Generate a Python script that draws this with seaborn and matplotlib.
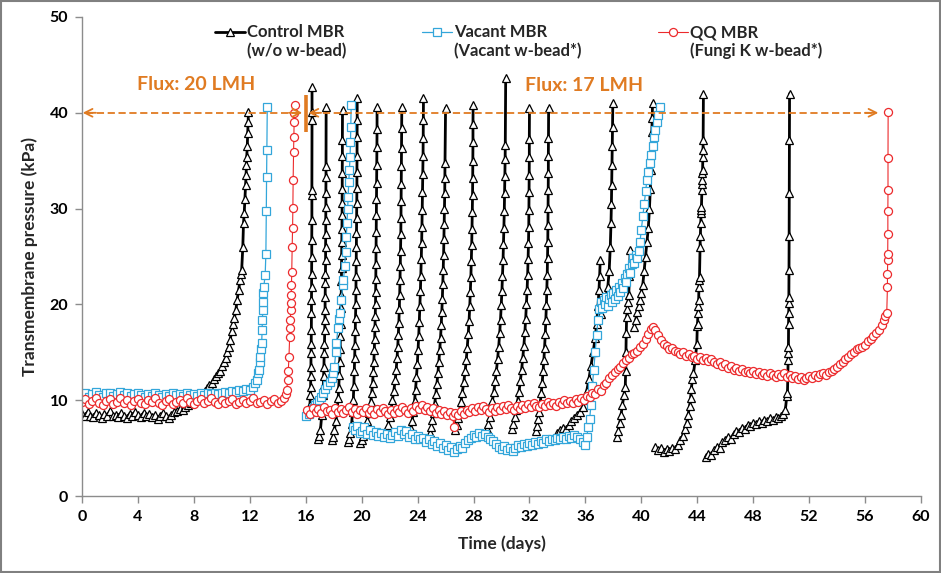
import numpy as np
import pandas as pd
import matplotlib
matplotlib.use("Agg")
import matplotlib.pyplot as plt
import seaborn as sns
from matplotlib.lines import Line2D
from matplotlib.patches import Rectangle

# ---------------- data (None separates operating cycles) ----------------
ctrl_day = [
    0.0, 0.2, 0.4, 0.6, 0.8, 1.0, 1.2, 1.4, 1.6, 1.8, 2.0, 2.2, 2.4, 2.6, 2.8, 3.0, 3.2, 3.4, 3.6, 3.8,
    4.0, 4.2, 4.4, 4.6, 4.8, 5.0, 5.2, 5.4, 5.6, 5.8, 6.0, 6.2, 6.4, 6.6, 6.8, 7.0, 7.2, 7.4, 7.6, 7.8,
    8.0, 8.2, 8.4, 8.6, 8.8, 8.95, 9.1, 9.3, 9.45, 9.6, 9.75, 9.9, 10.0, 10.15, 10.3, 10.4, 10.5, 10.6,
    10.7, 10.8, 10.9, 11.0, 11.1, 11.2, 11.3, 11.38, 11.42, 11.5, 11.55, 11.6, 11.65, 11.7, 11.73, 11.76,
    11.78, 11.82, 11.85, 11.88, 11.9, None,
    16.3, 16.33, 16.35, 16.36, 16.37, 16.38, 16.39, 16.4, 16.41, 16.41, 16.42, 16.42, 16.43, 16.43,
    16.44, 16.44, 16.44, 16.45, 16.45, 16.45, None,
    16.85, 16.95, 17.05, 17.15, 17.22, 17.25, 17.28, 17.3, 17.32, 17.34, 17.36, 17.37, 17.38, 17.39,
    17.4, 17.41, 17.42, 17.42, 17.43, 17.43, 17.44, 17.44, 17.45, 17.45, 17.46, None,
    17.85, 17.95, 18.05, 18.15, 18.25, 18.32, 18.36, 18.4, 18.43, 18.46, 18.48, 18.5, 18.52, 18.54,
    18.55, 18.56, 18.57, 18.58, 18.59, 18.6, 18.6, 18.61, 18.61, 18.62, 18.62, 18.63, None,
    19.05, 19.12, 19.2, 19.28, 19.35, 19.4, 19.44, 19.47, 19.5, 19.52, 19.54, 19.56, 19.58, 19.59,
    19.6, 19.61, 19.62, 19.63, 19.64, 19.65, 19.66, 19.66, 19.67, 19.67, 19.68, 19.68, None,
    19.9, 20.0, 20.1, 20.25, 20.4, 20.55, 20.65, 20.72, 20.78, 20.83, 20.87, 20.9, 20.93, 20.95, 20.97,
    20.99, 21.0, 21.01, 21.02, 21.03, 21.04, 21.05, 21.06, 21.07, 21.08, 21.09, 21.1, 21.1, None,
    21.7, 21.8, 21.9, 22.0, 22.1, 22.2, 22.3, 22.4, 22.47, 22.53, 22.58, 22.62, 22.66, 22.69, 22.72,
    22.74, 22.76, 22.78, 22.8, 22.81, 22.82, 22.83, 22.84, 22.85, 22.86, 22.87, None,
    23.4, 23.5, 23.6, 23.7, 23.78, 23.85, 23.92, 23.98, 24.03, 24.08, 24.12, 24.16, 24.2, 24.23, 24.26,
    24.29, 24.31, 24.33, 24.35, 24.37, 24.39, 24.4, 24.41, 24.42, None,
    24.9, 24.98, 25.06, 25.14, 25.22, 25.3, 25.38, 25.45, 25.52, 25.58, 25.64, 25.69, 25.73, 25.77,
    25.8, 25.83, 25.86, 25.88, 25.9, 25.92, 25.94, 25.95, 25.96, 26.0, None,
    26.7, 26.8, 26.9, 27.0, 27.1, 27.2, 27.3, 27.4, 27.48, 27.55, 27.62, 27.68, 27.73, 27.77, 27.81,
    27.84, 27.87, 27.89, 27.91, 27.93, 27.94, 27.95, 27.96, 27.96, 27.97, None,
    28.95, 29.05, 29.15, 29.25, 29.35, 29.45, 29.55, 29.64, 29.72, 29.8, 29.87, 29.93, 29.98, 30.03,
    30.07, 30.11, 30.14, 30.17, 30.2, 30.22, 30.24, 30.26, 30.27, 30.3, None,
    30.75, 30.85, 30.95, 31.05, 31.15, 31.25, 31.35, 31.44, 31.52, 31.6, 31.67, 31.73, 31.78, 31.83,
    31.87, 31.9, 31.93, 31.95, 31.96, 31.97, 31.98, 31.99, 31.99, 32.0, None,
    32.45, 32.53, 32.61, 32.69, 32.77, 32.84, 32.91, 32.97, 33.03, 33.08, 33.13, 33.17, 33.21, 33.24,
    33.27, 33.29, 33.31, 33.32, 33.33, 33.34, 33.35, 33.35, 33.36, 33.37, None,
    34.0, 34.2, 34.4, 34.6, 34.8, 35.0, 35.2, 35.4, 35.6, 35.8, 35.95, 36.1, 36.25, 36.4, 36.55, 36.7,
    36.8, 36.9, 36.97, 37.02, 37.06, None,
    37.15, 37.3, 37.45, 37.6, 37.7, 37.78, 37.83, 37.86, 37.88, 37.9, 37.92, 37.94, 37.96, None,
    38.25, 38.35, 38.45, 38.55, 38.65, 38.75, 38.85, 38.88, 38.9, 38.92, 38.95, 39.0, 39.05, 39.1,
    39.15, 39.2, None,
    39.5, 39.6, 39.7, 39.8, 39.9, 40.0, 40.1, 40.2, 40.3, 40.4, 40.5, 40.58, 40.64, 40.68, 40.72, 40.75,
    40.78, 40.8, None,
    41.0, 41.2, 41.4, 41.6, 41.8, 42.0, 42.2, 42.4, 42.6, 42.8, 42.95, 43.1, 43.25, 43.35, 43.45, 43.52,
    43.58, 43.65, 43.73, 43.85, 43.97, 44.0, 44.02, 44.05, 44.07, 44.1, 44.12, 44.14, 44.16, 44.2,
    44.22, 44.25, 44.27, 44.28, 44.3, 44.33, 44.34, 44.35, 44.37, 44.38, 44.4, 44.41, 44.42, 44.44, None,
    44.6, 44.8, 45.0, 45.2, 45.4, 45.6, 45.8, 46.0, 46.2, 46.4, 46.6, 46.8, 47.0, 47.2, 47.4, 47.6,
    47.8, 48.0, 48.2, 48.4, 48.6, 48.8, 49.0, 49.2, 49.4, 49.6, 49.8, 50.0, 50.15, 50.3, 50.4, 50.45,
    50.5, 50.5, 50.52, 50.53, 50.54, 50.55, 50.55, 50.56, 50.57, 50.58, 50.59, 50.6,
]
ctrl_tmp = [
    8.6, 8.3, 8.8, 8.4, 8.2, 8.7, 8.5, 8.1, 8.6, 8.4, 8.9, 8.3, 8.5, 8.2, 8.7, 8.4, 8.1, 8.6, 8.3, 8.8,
    8.5, 8.2, 8.7, 8.3, 8.6, 8.2, 8.5, 8.0, 8.4, 8.7, 8.3, 8.1, 8.5, 8.8, 8.9, 9.1, 9.0, 9.3, 9.5, 9.7,
    10.0, 10.3, 10.6, 10.8, 11.0, 11.3, 11.6, 11.8, 12.2, 12.5, 12.8, 13.1, 13.6, 14.0, 14.4, 15.0, 15.6, 16.3,
    17.2, 18.0, 18.6, 19.4, 20.5, 21.5, 22.5, 23.2, 23.6, 26.0, 28.5, 29.5, 31.0, 32.5, 33.5, 34.5,
    35.4, 36.5, 37.9, 39.0, 40.1, None,
    9.5, 10.5, 11.4, 12.5, 13.5, 14.9, 15.9, 17.3, 19.1, 20.5, 21.8, 23.2, 25.0, 26.7,
    28.8, 31.4, 31.9, 39.2, 40.1, 42.7, None,
    6.0, 6.3, 6.9, 8.5, 10.5, 11.4, 12.5, 13.5, 14.9, 15.9, 17.3, 18.4, 19.4, 20.8,
    22.2, 23.2, 24.6, 26.0, 27.4, 28.8, 30.2, 31.6, 33.3, 34.4, 40.6, None,
    5.8, 6.2, 6.9, 7.8, 9.0, 10.2, 11.3, 12.6, 14.0, 15.3, 16.7, 18.0, 19.6, 21.0,
    22.4, 23.8, 25.2, 26.5, 27.9, 29.3, 30.6, 32.0, 33.7, 35.5, 37.2, 40.3, None,
    5.6, 6.0, 6.6, 7.5, 8.8, 10.0, 11.5, 13.0, 14.4, 15.8, 17.2, 18.6, 20.0, 21.5,
    23.0, 24.5, 26.0, 27.5, 29.0, 30.6, 32.2, 33.8, 35.5, 37.5, 39.2, 41.5, None,
    5.5, 5.8, 6.3, 7.0, 7.8, 8.7, 9.8, 10.8, 11.8, 12.9, 14.0, 15.2, 16.4, 17.6, 18.8,
    20.0, 21.3, 22.7, 24.2, 25.9, 27.6, 29.3, 31.0, 32.7, 34.5, 36.4, 38.3, 40.6, None,
    6.4, 6.8, 7.4, 8.2, 9.0, 10.0, 11.0, 12.1, 13.2, 14.4, 15.6, 16.8, 18.1, 19.5, 21.0,
    22.5, 24.0, 25.6, 27.3, 29.0, 30.8, 32.6, 34.4, 36.3, 38.4, 40.6, None,
    6.5, 7.0, 7.8, 8.8, 9.9, 11.1, 12.4, 13.8, 15.2, 16.7, 18.2, 19.8, 21.4, 23.0, 24.7,
    26.4, 28.1, 29.9, 31.7, 33.6, 35.5, 37.4, 39.3, 41.5, None,
    6.6, 7.2, 7.9, 8.7, 9.6, 10.6, 11.7, 12.8, 14.0, 15.2, 16.5, 17.8, 19.2, 20.6,
    22.1, 23.6, 25.2, 26.8, 28.4, 30.0, 31.6, 33.2, 34.8, 40.5, None,
    6.9, 7.4, 8.1, 8.9, 9.8, 10.8, 11.9, 13.0, 14.2, 15.5, 16.9, 18.3, 19.8, 21.3, 22.9,
    24.5, 26.2, 27.9, 29.6, 31.4, 33.2, 35.0, 37.0, 38.8, 40.8, None,
    7.0, 7.5, 8.2, 9.0, 9.9, 10.9, 12.0, 13.1, 14.3, 15.6, 17.0, 18.4, 19.9, 21.4,
    23.0, 24.6, 26.3, 28.0, 29.8, 31.6, 33.4, 35.2, 36.6, 43.6, None,
    7.0, 7.5, 8.2, 9.0, 9.9, 10.9, 12.0, 13.2, 14.4, 15.7, 17.1, 18.5, 20.0, 21.5,
    23.1, 24.7, 26.4, 28.1, 29.9, 31.7, 33.5, 35.4, 37.3, 40.5, None,
    6.8, 7.3, 8.0, 8.8, 9.7, 10.7, 11.8, 13.0, 14.2, 15.5, 16.9, 18.4, 19.9, 21.5,
    23.1, 24.8, 26.5, 28.3, 30.1, 31.9, 33.7, 35.5, 37.4, 40.5, None,
    6.6, 6.9, 7.1, 7.0, 7.4, 7.8, 8.1, 8.5, 8.8, 9.3, 10.0, 11.0, 12.2, 13.6, 15.0, 16.5,
    18.0, 19.8, 21.5, 23.0, 24.6, None,
    19.0, 19.8, 20.6, 21.8, 23.5, 26.0, 28.5, 30.5, 32.5, 34.5, 36.5, 38.5, 41.0, None,
    6.2, 6.8, 7.6, 8.5, 9.5, 10.5, 11.4, 13.0, 15.0, 17.0, 18.7, 19.5, 20.3, 21.0,
    23.0, 25.7, None,
    17.6, 18.4, 19.2, 19.8, 20.5, 21.2, 22.0, 23.5, 25.0, 26.5, 28.0, 30.0, 32.0, 34.0, 36.0, 38.0,
    39.5, 41.0, None,
    5.1, 4.8, 5.0, 4.6, 4.9, 4.7, 5.0, 4.9, 5.3, 5.8, 6.3, 7.0, 7.6, 8.5, 9.4, 10.2,
    11.2, 12.2, 12.8, 14.2, 15.9, 17.7, 18.0, 19.1, 19.8, 20.5, 21.8, 22.5, 22.9, 26.0,
    27.1, 28.5, 29.5, 29.9, 30.2, 31.9, 32.6, 33.0, 33.7, 34.0, 35.4, 36.1, 37.2, 42.0, None,
    4.1, 4.4, 4.3, 4.8, 5.1, 5.0, 5.6, 5.8, 6.2, 6.0, 6.5, 6.8, 6.7, 7.1, 7.0, 7.4,
    7.3, 7.6, 7.5, 7.8, 7.6, 7.9, 7.8, 8.1, 7.9, 8.2, 8.1, 8.4, 8.6, 9.0, 10.4, 10.7,
    14.2, 14.9, 15.6, 18.0, 19.1, 20.1, 20.8, 23.6, 27.1, 31.6, 37.2, 42.0,
]

vac_day = [
    0.0, 0.25, 0.5, 0.75, 1.0, 1.25, 1.5, 1.75, 2.0, 2.25, 2.5, 2.75, 3.0, 3.25, 3.5, 3.75, 4.0, 4.25,
    4.5, 4.75, 5.0, 5.25, 5.5, 5.75, 6.0, 6.25, 6.5, 6.75, 7.0, 7.25, 7.5, 7.75, 8.0, 8.25, 8.5, 8.75,
    9.0, 9.25, 9.5, 9.75, 10.0, 10.25, 10.5, 10.75, 11.0, 11.25, 11.5, 11.75, 12.0, 12.2, 12.35, 12.5,
    12.6, 12.65, 12.7, 12.75, 12.8, 12.85, 12.88, 12.9, 12.93, 12.95, 12.97, 13.0, 13.1, 13.15, 13.18,
    13.2, 13.22, 13.25, None,
    16.05, 16.2, 16.35, 16.5, 16.65, 16.8, 16.95, 17.1, 17.25, 17.4, 17.55, 17.7, 17.85, 17.95, 18.05,
    18.15, 18.2, 18.3, 18.4, 18.45, 18.55, 18.65, 18.7, 18.78, 18.85, 18.9, 18.95, 19.0, 19.03, 19.08,
    19.12, 19.17, 19.2, 19.22, 19.25, None,
    19.4, 19.55, 19.7, 19.85, 20.0, 20.2, 20.4, 20.6, 20.8, 21.0, 21.2, 21.4, 21.6, 21.8, 22.0, 22.2,
    22.4, 22.6, 22.8, 23.0, 23.2, 23.4, 23.6, 23.8, 24.0, 24.2, 24.4, 24.6, 24.8, 25.0, 25.2, 25.4,
    25.6, 25.8, 26.0, 26.2, 26.4, 26.6, 26.8, 27.0, 27.2, 27.4, 27.6, 27.8, 28.0, 28.2, 28.4, 28.6,
    28.8, 29.0, 29.2, 29.4, 29.6, 29.8, 30.0, 30.2, 30.4, 30.6, 30.8, 31.0, 31.2, 31.4, 31.6, 31.8,
    32.0, 32.2, 32.4, 32.6, 32.8, 33.0, 33.2, 33.4, 33.6, 33.8, 34.0, 34.2, 34.4, 34.6, 34.8, 35.0,
    35.2, 35.4, 35.6, 35.8, 36.0, 36.1, 36.2, 36.3, 36.4, 36.5, 36.6, 36.7, 36.8, 36.9, 37.0, 37.1,
    37.2, 37.3, 37.4, 37.5, 37.6, 37.7, 37.8, 37.9, 38.0, 38.1, 38.2, 38.3, 38.4, 38.5, 38.6, 38.7,
    38.8, 38.9, 39.0, 39.1, 39.2, 39.3, 39.4, 39.5, 39.6, 39.7, 39.8, 39.9, 40.0, 40.1, 40.2, 40.3,
    40.4, 40.5, 40.6, 40.7, 40.8, 40.9, 41.0, 41.1, 41.2, 41.3,
]
vac_tmp = [
    10.4, 10.7, 10.3, 10.6, 10.9, 10.5, 10.3, 10.7, 10.8, 10.4, 10.6, 10.9, 10.5, 10.7, 10.4, 10.6, 10.8, 10.5,
    10.3, 10.6, 10.4, 10.7, 10.5, 10.3, 10.6, 10.4, 10.7, 10.5, 10.6, 10.4, 10.7, 10.5, 10.6, 10.4, 10.7, 10.5,
    10.7, 10.6, 10.8, 10.6, 10.8, 10.9, 10.7, 11.0, 10.9, 11.1, 11.0, 11.2, 11.1, 11.4, 11.8, 12.1,
    12.8, 13.2, 14.0, 14.5, 15.3, 16.0, 17.3, 18.4, 19.4, 20.3, 21.2, 21.8, 23.1, 25.3, 29.7,
    33.3, 36.1, 40.6, None,
    8.3, 8.6, 8.9, 9.2, 9.5, 9.7, 10.0, 10.3, 10.7, 11.2, 11.6, 11.9, 12.3, 12.8, 13.5,
    15.0, 16.0, 17.5, 18.5, 19.1, 20.5, 22.0, 22.5, 24.0, 25.5, 27.0, 28.5, 30.0, 31.2, 32.8,
    34.0, 35.4, 37.0, 38.5, 40.8, None,
    7.2, 6.9, 7.3, 6.6, 6.8, 7.2, 6.5, 6.9, 6.4, 6.7, 6.3, 6.6, 6.2, 6.5, 6.1, 6.4,
    6.7, 6.3, 6.9, 6.5, 6.8, 6.2, 6.5, 6.0, 6.3, 5.9, 6.1, 5.6, 5.9, 5.4, 5.7, 5.2,
    5.5, 5.0, 5.3, 4.8, 5.1, 4.6, 4.9, 5.2, 5.0, 5.5, 5.8, 6.1, 6.4, 6.2, 6.6, 6.3,
    6.5, 6.2, 6.0, 5.7, 5.4, 5.1, 4.9, 5.2, 4.8, 5.0, 4.7, 5.0, 5.3, 5.1, 5.4, 5.2,
    5.5, 5.3, 5.6, 5.4, 5.7, 5.5, 5.9, 5.7, 6.0, 5.8, 6.1, 5.9, 6.2, 6.0, 6.3, 6.1,
    6.4, 6.2, 6.0, 5.6, 5.3, 6.2, 7.2, 8.0, 9.5, 11.5, 13.2, 15.0, 16.8, 18.4, 19.5, 20.2,
    19.6, 20.5, 20.0, 20.8, 19.8, 20.6, 21.0, 20.3, 21.2, 20.6, 21.5, 20.9, 21.8, 21.3, 22.2, 21.7,
    22.8, 22.3, 23.2, 23.8, 23.3, 24.2, 24.8, 24.3, 25.2, 24.8, 25.6, 26.5, 27.8, 29.2, 30.5, 31.8,
    33.0, 33.8, 34.8, 35.6, 36.5, 37.5, 38.2, 39.0, 39.8, 40.6,
]

qq_day = [
    0.0, 0.25, 0.5, 0.75, 1.0, 1.25, 1.5, 1.75, 2.0, 2.25, 2.5, 2.75, 3.0, 3.25, 3.5, 3.75, 4.0, 4.25,
    4.5, 4.75, 5.0, 5.25, 5.5, 5.75, 6.0, 6.25, 6.5, 6.75, 7.0, 7.25, 7.5, 7.75, 8.0, 8.25, 8.5, 8.75,
    9.0, 9.25, 9.5, 9.75, 10.0, 10.25, 10.5, 10.75, 11.0, 11.25, 11.5, 11.75, 12.0, 12.25, 12.5, 12.75,
    13.0, 13.25, 13.5, 13.75, 14.0, 14.25, 14.45, 14.6, 14.65, 14.7, 14.75, 14.8, 14.85, 14.88, 14.9,
    14.92, 14.94, 14.96, 14.98, 15.0, 15.03, 15.06, 15.08, 15.1, 15.13, 15.15, 15.17, 15.18, 15.2, None,
    16.1, 16.3, 16.5, 16.7, 16.9, 17.1, 17.3, 17.5, 17.7, 17.9, 18.1, 18.3, 18.5, 18.7, 18.9, 19.1,
    19.3, 19.5, 19.7, 19.9, 20.1, 20.3, 20.5, 20.7, 20.9, 21.1, 21.3, 21.5, 21.7, 21.9, 22.1, 22.3,
    22.5, 22.7, 22.9, 23.1, 23.3, 23.5, 23.7, 23.9, 24.1, 24.3, 24.5, 24.7, 24.9, 25.1, 25.3, 25.5,
    25.7, 25.9, 26.1, 26.3, 26.5, 26.6, 26.7, 26.9, 27.1, 27.3, 27.5, 27.7, 27.9, 28.1, 28.3, 28.5,
    28.7, 28.9, 29.1, 29.3, 29.5, 29.7, 29.9, 30.1, 30.3, 30.5, 30.7, 30.9, 31.1, 31.3, 31.5, 31.7,
    31.9, 32.1, 32.3, 32.5, 32.7, 32.9, 33.1, 33.3, 33.5, 33.7, 33.9, 34.1, 34.3, 34.5, 34.7, 34.9,
    35.1, 35.3, 35.5, 35.7, 35.9, 36.1, 36.3, 36.5, 36.7, 36.9, 37.1, 37.3, 37.5, 37.7, 37.9, 38.1,
    38.3, 38.5, 38.7, 38.9, 39.1, 39.3, 39.5, 39.7, 39.9, 40.1, 40.3, 40.5, 40.7, 40.85, 41.0, 41.2,
    41.4, 41.6, 41.8, 42.0, 42.2, 42.4, 42.6, 42.8, 43.0, 43.2, 43.4, 43.6, 43.8, 44.0, 44.2, 44.4,
    44.6, 44.8, 45.0, 45.2, 45.4, 45.6, 45.8, 46.0, 46.2, 46.4, 46.6, 46.8, 47.0, 47.2, 47.4, 47.6,
    47.8, 48.0, 48.2, 48.4, 48.6, 48.8, 49.0, 49.2, 49.4, 49.6, 49.8, 50.0, 50.2, 50.4, 50.6, 50.8,
    51.0, 51.2, 51.4, 51.6, 51.8, 52.0, 52.2, 52.4, 52.6, 52.8, 53.0, 53.2, 53.4, 53.6, 53.8, 54.0,
    54.2, 54.4, 54.6, 54.8, 55.0, 55.2, 55.4, 55.6, 55.8, 56.0, 56.2, 56.4, 56.6, 56.8, 57.0, 57.2,
    57.35, 57.45, 57.55, 57.6, 57.6, 57.62, 57.62, 57.63, 57.63, 57.64, 57.64, 57.65,
]
qq_tmp = [
    9.8, 10.1, 9.6, 9.9, 10.2, 9.7, 9.5, 9.9, 10.1, 9.6, 9.8, 10.2, 9.7, 10.0, 9.5, 9.9, 10.1, 9.7,
    9.6, 10.0, 9.8, 10.2, 9.7, 9.5, 9.9, 10.1, 9.6, 9.8, 10.0, 9.7, 10.2, 9.8, 9.6, 9.9, 10.1, 9.7,
    9.9, 10.2, 9.8, 9.6, 10.0, 9.7, 9.9, 10.1, 9.6, 9.8, 10.0, 9.7, 9.9, 10.2, 9.7, 9.8,
    10.0, 9.6, 9.9, 10.1, 9.7, 9.9, 10.2, 10.6, 11.1, 12.1, 13.0, 14.5, 16.6, 17.5, 18.4,
    19.4, 20.1, 21.0, 22.0, 23.4, 26.0, 28.0, 30.1, 33.0, 35.9, 37.5, 39.0, 40.0, 40.8, None,
    9.0, 8.6, 9.2, 8.8, 9.1, 8.7, 9.3, 8.9, 9.0, 8.6, 9.2, 8.8, 9.1, 8.7, 9.0, 9.3,
    8.8, 9.1, 8.6, 9.0, 8.8, 9.2, 8.7, 9.0, 8.6, 9.1, 8.8, 9.2, 8.9, 8.6, 9.0, 8.7,
    9.1, 8.8, 9.3, 9.0, 8.7, 9.2, 8.9, 9.4, 9.1, 9.5, 9.0, 9.3, 8.9, 9.2, 8.7, 9.0,
    8.6, 8.9, 8.5, 8.8, 8.4, 7.2, 8.7, 8.5, 8.9, 8.6, 9.0, 8.8, 9.2, 8.9, 9.3, 9.0,
    9.4, 9.1, 8.8, 9.2, 8.9, 9.3, 9.0, 9.4, 9.1, 9.5, 9.2, 9.0, 9.4, 9.1, 9.5, 9.2,
    9.6, 9.3, 9.7, 9.4, 9.3, 9.6, 9.4, 9.8, 9.5, 9.7, 9.4, 9.8, 9.6, 10.0, 9.7, 9.9,
    9.7, 10.1, 9.8, 10.2, 10.0, 10.4, 10.3, 10.8, 10.6, 11.2, 11.0, 11.6, 11.8, 12.3, 12.6, 12.9,
    13.3, 13.5, 13.9, 14.2, 14.4, 14.8, 14.9, 15.1, 15.6, 15.9, 16.4, 16.9, 17.4, 17.6, 17.3, 16.8,
    16.3, 15.9, 15.7, 15.3, 15.5, 15.1, 15.0, 14.8, 15.0, 14.6, 14.8, 14.5, 14.6, 14.3, 14.5, 14.2,
    14.4, 14.1, 14.3, 14.0, 13.8, 14.0, 13.6, 13.8, 13.4, 13.6, 13.2, 13.4, 13.1, 13.3, 12.9, 13.1,
    12.8, 13.0, 12.7, 12.9, 12.6, 12.8, 12.5, 12.8, 12.6, 12.4, 12.7, 12.5, 12.8, 12.4, 12.6, 12.3,
    12.5, 12.2, 12.4, 12.1, 12.3, 12.5, 12.3, 12.6, 12.4, 12.7, 12.8, 12.6, 12.9, 13.1, 13.3, 13.5,
    13.8, 14.0, 14.3, 14.5, 14.8, 15.0, 15.3, 15.4, 15.6, 15.8, 16.2, 16.4, 16.7, 17.0, 17.3, 17.8,
    18.4, 18.8, 19.1, 21.8, 23.2, 24.6, 25.3, 27.4, 29.8, 31.9, 35.3, 40.1,
]

legend_first = ["Control MBR", "Vacant MBR", "QQ MBR"]
legend_second = ["(w/o w-bead)", "(Vacant w-bead*)", "(Fungi K w-bead*)"]
flux_labels = ["Flux: 20 LMH", "Flux: 17 LMH"]
x_ticks = list(range(0, 61, 4))
y_ticks = list(range(0, 51, 10))


def to_frame(days, vals):
    rows, unit = [], 0
    for d, v in zip(days, vals):
        if d is None:
            unit += 1
            continue
        rows.append((d, v, unit))
    return pd.DataFrame(rows, columns=["day", "tmp", "cycle"])


ctrl = to_frame(ctrl_day, ctrl_tmp)
vac = to_frame(vac_day, vac_tmp)
qq = to_frame(qq_day, qq_tmp)

# ---------------- style ----------------
sns.set_theme(style="ticks")
plt.rcParams["font.family"] = ["Lato", "DejaVu Sans"]
plt.rcParams["font.weight"] = "bold"
plt.rcParams["axes.labelweight"] = "bold"

BLACK = "#000000"
CYAN = "#33A6DA"
RED = "#EC2A2C"
ORANGE = "#E07B22"
GRAY = "#8C8C8C"

fig = plt.figure(figsize=(9.41, 5.73), dpi=100)
ax = fig.add_axes([82 / 941, 1 - 496 / 573, 839 / 941, 479 / 573])

styles = [
    (ctrl, BLACK, "^", 5.8, 2.0),
    (vac, CYAN, "s", 5.2, 0.9),
    (qq, RED, "o", 5.8, 0.8),
]
for df, col, mk, ms, lw in styles:
    sns.lineplot(data=df, x="day", y="tmp", units="cycle", estimator=None, sort=False,
                 color=col, linewidth=lw, marker=mk, markersize=ms,
                 markerfacecolor="white", markeredgecolor=col, markeredgewidth=0.9,
                 legend=False, ax=ax)

ax.set_xlim(0, 60)
ax.set_ylim(0, 50)
ax.set_xticks(x_ticks)
ax.set_yticks(y_ticks)
ax.set_xticklabels([str(t) for t in x_ticks])
ax.set_yticklabels([str(t) for t in y_ticks])
ax.tick_params(axis="both", direction="out", length=5, width=1, color=GRAY,
               labelsize=11.5, pad=5, labelcolor="black")
for lab in ax.get_xticklabels() + ax.get_yticklabels():
    lab.set_fontweight("bold")
sns.despine(ax=ax)
for s in ["left", "bottom"]:
    ax.spines[s].set_color(GRAY)
    ax.spines[s].set_linewidth(1.0)
ax.set_xlabel("Time (days)", fontsize=12.5, fontweight="bold", labelpad=8)
ax.set_ylabel("Transmembrane pressure (kPa)", fontsize=12.5, fontweight="bold", labelpad=8)

# ---------------- flux annotations ----------------
dash = (0, (4, 2))
ax.plot([0.3, 15.5], [40, 40], color=ORANGE, lw=1.3, ls=dash, zorder=5)
ax.plot([16.45, 56.7], [40, 40], color=ORANGE, lw=1.3, ls=dash, zorder=5)
arrow_kw = dict(arrowstyle="->", color=ORANGE, lw=1.3, shrinkA=0, shrinkB=0, mutation_scale=14)
ax.annotate("", xy=(0.05, 40), xytext=(1.0, 40), arrowprops=arrow_kw, zorder=6)
ax.annotate("", xy=(15.75, 40), xytext=(14.8, 40), arrowprops=arrow_kw, zorder=6)
ax.annotate("", xy=(16.2, 40), xytext=(17.1, 40), arrowprops=arrow_kw, zorder=6)
ax.annotate("", xy=(56.95, 40), xytext=(56.0, 40), arrowprops=arrow_kw, zorder=6)
ax.plot([16.0, 16.0], [38.0, 41.9], color=ORANGE, lw=2.6, solid_capstyle="butt", zorder=6)
ax.text(8.15, 43.0, flux_labels[0], color=ORANGE, fontsize=14, fontweight="bold",
        ha="center", va="center")
ax.text(35.9, 42.9, flux_labels[1], color=ORANGE, fontsize=14, fontweight="bold",
        ha="center", va="center")

# ---------------- legend (three entries across the top) ----------------
handle_x = [215, 422, 658]
handles = [
    Line2D([], [], color=BLACK, lw=2.0, marker="^", markersize=5.8, markerfacecolor="white",
           markeredgecolor=BLACK, markeredgewidth=0.9),
    Line2D([], [], color=CYAN, lw=0.9, marker="s", markersize=5.2, markerfacecolor="white",
           markeredgecolor=CYAN, markeredgewidth=0.9),
    Line2D([], [], color=RED, lw=0.8, marker="o", markersize=5.8, markerfacecolor="white",
           markeredgecolor=RED, markeredgewidth=0.9),
]
for hx, h, l1, l2 in zip(handle_x, handles, legend_first, legend_second):
    leg = fig.legend([h], [l1 + "\n" + l2], loc="upper left",
                     bbox_to_anchor=(hx / 941, 1 - 24 / 573), frameon=False,
                     handlelength=1.8, handletextpad=0.1, borderpad=0, borderaxespad=0,
                     numpoints=1, prop=dict(size=12, weight="bold"))
    for t in leg.get_texts():
        t.set_linespacing(1.2)
    for lh in leg.legend_handles:
        lh.set_ydata(np.asarray(lh.get_ydata()) + 7.3)

# outer frame of the picture
fig.patches.append(Rectangle((0.001, 0.001), 0.998, 0.997, transform=fig.transFigure,
                             fill=False, edgecolor="#808080", lw=1.5))

fig.savefig("out.png", dpi=100)
